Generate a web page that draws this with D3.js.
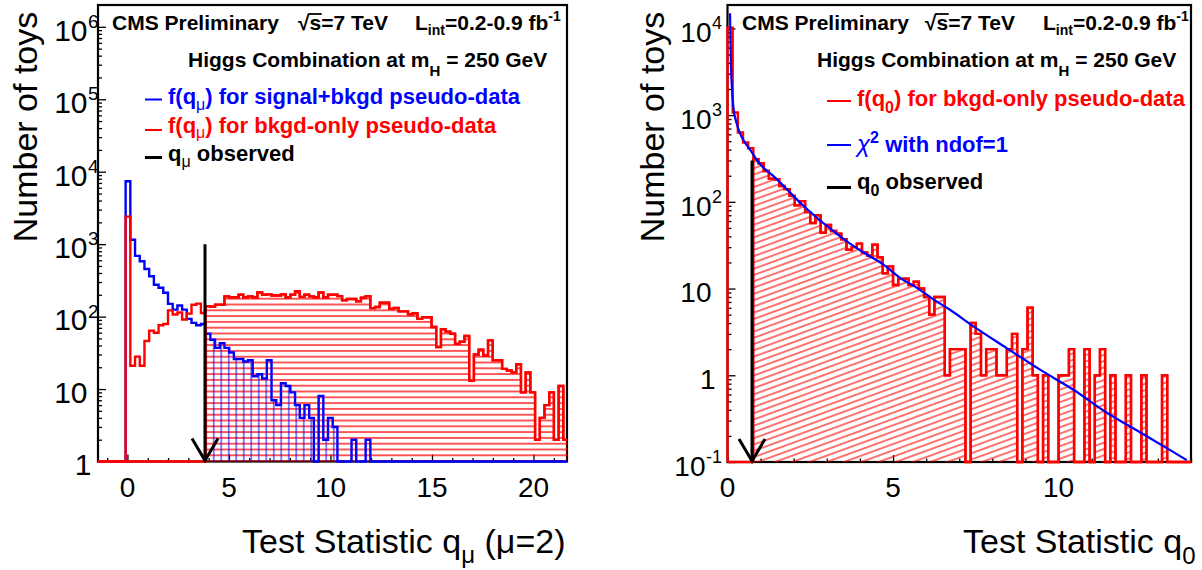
<!DOCTYPE html>
<html>
<head>
<meta charset="utf-8">
<script src="https://cdn.jsdelivr.net/npm/d3@7"></script>
<style>
  html, body { margin: 0; padding: 0; background: #fff; }
  svg { display: block; font-family: "Liberation Sans", Arial, Helvetica, sans-serif; }
</style>
</head>
<body>
<svg id="chart" width="1202" height="570"></svg>
<script>
// ---------------- data: q_mu toys (mu = 2) ----------------
const muBinStart = -0.089;
const muBinWidth = 0.2318;
const muSignalBkgd = [
  7400, 1150, 690, 580, 455, 360, 275, 250, 213, 150,
  125, 142, 125, 93, 82, 76, 79, 58, 48, 37,
  43, 37, 32, 26, 26, 24, 25, 15, 16, 14,
  25, 7, 6, 12, 11, 9, 6, 4, 6, 4,
  0, 8, 2, 4, 3, 0, 0, 0, 2, 0,
  0, 2, 0, 0, 0, 0, 0, 0, 0, 0,
  0, 0, 0, 0, 0, 0, 0, 0, 0, 0,
  0, 0, 0, 0, 0, 0, 0, 0, 0, 0,
  0, 0, 0, 0, 0, 0, 0, 0, 0, 0,
  0, 0, 0, 0
];
const muBkgdOnly = [
  2400, 21, 28, 21, 46, 64, 60, 76, 79, 122,
  107, 114, 91, 110, 146, 151, 112, 139, 137, 146,
  146, 190, 185, 185, 200, 185, 190, 185, 216, 200,
  203, 196, 196, 203, 185, 200, 224, 187, 200, 190,
  185, 216, 185, 200, 200, 192, 168, 175, 175, 163,
  182, 192, 131, 136, 155, 155, 128, 132, 118, 118,
  108, 111, 93, 98, 98, 72, 38, 67, 62, 58,
  42, 45, 54, 13, 30, 35, 29, 47, 25, 25,
  19, 18, 17, 22, 9, 17, 9, 2, 4, 6,
  9, 2, 11, 2
];
const muObserved = 3.82;
const muObservedHeight = 1000;
const muXTicks = [0, 5, 10, 15, 20];
const muYTicks = [1, 10, 1e2, 1e3, 1e4, 1e5, 1e6];

// ---------------- data: q_0 toys ----------------
const q0BinStart = 0;
const q0BinWidth = 0.15625;
const q0BkgdOnly = [
  10200, 1070, 630, 483, 415, 310, 279, 227, 185, 182,
  152, 140, 117, 91, 102, 76, 57, 70, 44, 54,
  46, 43, 37, 28, 30, 33, 26, 24, 32, 23,
  15, 18, 11, 13, 13, 11, 12, 10, 8, 5,
  8, 8, 1, 2, 2, 2, 0, 4, 3, 1,
  2, 2, 1, 1, 2, 3, 0, 2, 6, 1,
  0, 1, 0, 0, 1, 1, 2, 0, 0, 2,
  0, 1, 2, 0, 1, 0, 0, 1, 0, 0,
  1, 0, 0, 0, 1, 0, 0, 0, 0, 0
];
const chi2Q = [0.076, 0.106, 0.126, 0.176, 0.277, 0.378, 0.529, 0.68, 0.98, 1.38,
  1.79, 2.19, 2.69, 3.2, 3.7, 4.21, 4.71, 5.21, 5.72, 6.22,
  6.72, 7.43, 8.43, 9.44, 10.45, 11.46, 12.46, 13.47, 13.87];
const chi2Toys = [14900, 3600, 2320, 1250, 800, 615, 480, 400, 272, 199,
  140, 98, 66, 46, 33, 24.7, 18.9, 13.3, 10.2, 7.5,
  5.7, 3.66, 2.06, 1.16, 0.68, 0.37, 0.22, 0.13, 0.105];
const q0Observed = 0.74;
const q0ObservedHeight = 300;
const q0XTicks = [0, 5, 10];
const q0YTicks = [0.1, 1, 10, 1e2, 1e3, 1e4];

// ---------------- drawing ----------------
const RED = "#ff0000", BLUE = "#0000ff";
const svg = d3.select("#chart");
const defs = svg.append("defs");

function linePattern(id, w, h, line, color, width, opacity, transform) {
  const p = defs.append("pattern").attr("id", id)
    .attr("patternUnits", "userSpaceOnUse").attr("width", w).attr("height", h);
  if (transform) p.attr("patternTransform", transform);
  p.append("line").attr("x1", line[0]).attr("y1", line[1]).attr("x2", line[2]).attr("y2", line[3])
    .attr("stroke", color).attr("stroke-width", width).attr("stroke-opacity", opacity);
}
linePattern("hatchRedH", 10, 5.8, [0, 2.9, 10, 2.9], RED, 1.3, 1);
linePattern("hatchBlueV", 7.5, 10, [3.75, 0, 3.75, 10], BLUE, 1.3, 0.75);
linePattern("hatchRedD", 12, 5.9, [0, 2.95, 12, 2.95], RED, 1.1, 1, "rotate(-20)");

// step outline points of a histogram, starting on the floor at the frame's left edge
function stepPoints(values, start, width, x, y, floorPx, fromPx) {
  const ymin = y.domain()[0];
  const pts = [[fromPx, floorPx], [x(start), floorPx]];
  values.forEach((v, i) => {
    const yy = v > ymin ? y(v) : floorPx;
    pts.push([x(start + i * width), yy], [x(start + (i + 1) * width), yy]);
  });
  pts.push([x(start + values.length * width), floorPx]);
  return pts;
}
// copy of a histogram keeping only bins at or beyond the observed value
function tailOf(values, start, width, qObs) {
  return values.map((v, i) => (start + i * width >= qObs - 1e-9 ? v : 0));
}

const lineGen = d3.line();

function logTicks(domain) {
  const out = [];
  const lo = Math.floor(Math.log10(domain[0])), hi = Math.ceil(Math.log10(domain[1]));
  for (let e = lo; e <= hi; e++) {
    for (let m = 2; m <= 9; m++) {
      const v = m * Math.pow(10, e);
      if (v > domain[0] && v < domain[1]) out.push(v);
    }
  }
  return out;
}

function yLabel(g, v, y, baseX, size, supSize) {
  const e = Math.round(Math.log10(v));
  const yb = y(v) + 13.8;
  const t = (txt, x, yy, fs, anchor) => g.append("text").attr("x", x).attr("y", yy)
    .attr("font-size", fs).attr("text-anchor", anchor).text(txt);
  if (e === 0) { t("1", baseX + 4, yb, size, "end"); return; }
  if (e === 1) { t("10", baseX, yb, size, "end"); return; }
  const shift = e < 0 ? -6 : 0;
  t("10", baseX + shift, yb, size, "end");
  t(String(e), baseX + shift + 0.5, y(v) + 1, supSize, "start");
}

function drawPanel(cfg) {
  const g = svg.append("g");
  const x = d3.scaleLinear().domain(cfg.xDomain).range([cfg.left, cfg.right]);
  const y = d3.scaleLog().domain(cfg.yDomain).range([cfg.bottom, cfg.top]);

  // frame and ticks
  g.append("rect").attr("x", cfg.left).attr("y", cfg.top)
    .attr("width", cfg.right - cfg.left).attr("height", cfg.bottom - cfg.top)
    .attr("fill", "#fff").attr("stroke", "#000").attr("stroke-width", 2.2);

  const axes = g.append("g").attr("stroke-width", 1.3);
  axes.append("g").attr("transform", `translate(${cfg.left},0)`)
    .call(d3.axisLeft(y).tickValues(cfg.yTicks).tickSize(-8).tickFormat(""))
    .call(a => a.select(".domain").remove());
  axes.append("g").attr("transform", `translate(${cfg.left},0)`)
    .call(d3.axisLeft(y).tickValues(logTicks(cfg.yDomain)).tickSize(-4).tickFormat(""))
    .call(a => a.select(".domain").remove());
  axes.append("g").attr("transform", `translate(0,${cfg.bottom})`)
    .call(d3.axisBottom(x).tickValues(cfg.xTicks).tickSize(-7).tickFormat(""))
    .call(a => a.select(".domain").remove());
  const minorX = d3.range(Math.ceil(cfg.xDomain[0]), Math.floor(cfg.xDomain[1]) + 1)
    .filter(v => !cfg.xTicks.includes(v));
  axes.append("g").attr("transform", `translate(0,${cfg.bottom})`)
    .call(d3.axisBottom(x).tickValues(minorX).tickSize(-3.5).tickFormat(""))
    .call(a => a.select(".domain").remove());

  // tick labels
  cfg.xTicks.forEach(v => {
    g.append("text").attr("x", x(v)).attr("y", 497).attr("font-size", 28)
      .attr("text-anchor", "middle").text(v);
  });
  cfg.yTicks.forEach(v => yLabel(g, v, y, cfg.labelX, cfg.labelSize, cfg.supSize));

  // plot area, clipped to the frame
  const clipId = cfg.id + "-clip";
  defs.append("clipPath").attr("id", clipId).append("rect")
    .attr("x", cfg.left - 2).attr("y", cfg.top)
    .attr("width", cfg.right - cfg.left + 2).attr("height", cfg.bottom - cfg.top + 2);
  const plot = g.append("g").attr("clip-path", `url(#${clipId})`);

  return { g, plot, x, y };
}

function observedMarker(plot, x, y, q, h, floorPx) {
  const m = plot.append("g").attr("stroke", "#000").attr("fill", "none")
    .attr("stroke-width", 3);
  m.append("line").attr("x1", x(q)).attr("x2", x(q)).attr("y1", y(h)).attr("y2", floorPx);
  m.append("path").attr("d", lineGen([[x(q) - 13, floorPx - 23], [x(q), floorPx - 1], [x(q) + 13, floorPx - 23]]));
}

// ------- left panel: q_mu -------
(function () {
  const cfg = {
    id: "mu", left: 98, right: 567, top: 5, bottom: 461.5,
    xDomain: [-1.45, 21.65], yDomain: [1, 2.0e6],
    xTicks: muXTicks, yTicks: muYTicks, labelX: 87.5, labelSize: 30, supSize: 19
  };
  const { plot, x, y } = drawPanel(cfg);
  const floorPx = cfg.bottom;

  const redTail = tailOf(muBkgdOnly, muBinStart, muBinWidth, muObserved);
  const blueTail = tailOf(muSignalBkgd, muBinStart, muBinWidth, muObserved);

  plot.append("path").attr("d", lineGen(stepPoints(redTail, muBinStart, muBinWidth, x, y, floorPx, cfg.left)) + "Z")
    .attr("fill", "url(#hatchRedH)").attr("stroke", "none");
  plot.append("path").attr("d", lineGen(stepPoints(blueTail, muBinStart, muBinWidth, x, y, floorPx, cfg.left)) + "Z")
    .attr("fill", "url(#hatchBlueV)").attr("stroke", "none");

  plot.append("path").attr("d", lineGen(stepPoints(muSignalBkgd, muBinStart, muBinWidth, x, y, floorPx, cfg.left)))
    .attr("fill", "none").attr("stroke", BLUE).attr("stroke-width", 2.4);
  plot.append("path").attr("d", lineGen(stepPoints(muBkgdOnly, muBinStart, muBinWidth, x, y, floorPx, cfg.left)))
    .attr("fill", "none").attr("stroke", RED).attr("stroke-width", 2.4);
  plot.append("path").attr("d", lineGen(stepPoints(redTail, muBinStart, muBinWidth, x, y, floorPx, cfg.left)))
    .attr("fill", "none").attr("stroke", RED).attr("stroke-width", 2.4);

  observedMarker(plot, x, y, muObserved, muObservedHeight, floorPx);
})();

// ------- right panel: q_0 -------
(function () {
  const cfg = {
    id: "q0", left: 727.5, right: 1191, top: 5, bottom: 462,
    xDomain: [0, 14], yDomain: [0.1, 1.86e4],
    xTicks: q0XTicks, yTicks: q0YTicks, labelX: 711.5, labelSize: 28, supSize: 18
  };
  const { plot, x, y } = drawPanel(cfg);
  const floorPx = cfg.bottom;

  const tail = tailOf(q0BkgdOnly, q0BinStart, q0BinWidth, q0Observed);
  plot.append("path").attr("d", lineGen(stepPoints(tail, q0BinStart, q0BinWidth, x, y, floorPx, cfg.left)) + "Z")
    .attr("fill", "url(#hatchRedD)").attr("stroke", "none");
  plot.append("path").attr("d", lineGen(stepPoints(q0BkgdOnly, q0BinStart, q0BinWidth, x, y, floorPx, cfg.left)))
    .attr("fill", "none").attr("stroke", RED).attr("stroke-width", 2.4);
  plot.append("path").attr("d", lineGen(stepPoints(tail, q0BinStart, q0BinWidth, x, y, floorPx, cfg.left)))
    .attr("fill", "none").attr("stroke", RED).attr("stroke-width", 2.4);

  const chi2Line = d3.line().x(d => x(d[0])).y(d => y(d[1])).curve(d3.curveMonotoneX);
  plot.append("path").attr("d", chi2Line(chi2Q.map((q, i) => [q, chi2Toys[i]])))
    .attr("fill", "none").attr("stroke", BLUE).attr("stroke-width", 2.2);

  observedMarker(plot, x, y, q0Observed, q0ObservedHeight, floorPx);
})();

// ---------------- texts ----------------
function header(x0, x1, x2) {
  const yb = 30;
  svg.append("text").attr("x", x0).attr("y", yb).attr("font-size", 21).attr("font-weight", "bold")
    .text("CMS Preliminary");
  const s = svg.append("text").attr("x", x1).attr("y", yb).attr("font-size", 21).attr("font-weight", "bold");
  s.append("tspan").text("\u221A");
  s.append("tspan").text("s=7 TeV");
  const node = s.node();
  const e0 = node.getExtentOfChar(0), e1 = node.getExtentOfChar(1);
  svg.append("line").attr("x1", e0.x + e0.width - 1).attr("x2", e1.x + e1.width + 0.5)
    .attr("y1", yb - 16).attr("y2", yb - 16).attr("stroke", "#000").attr("stroke-width", 1.8);
  const L = svg.append("text").attr("x", x2).attr("y", yb).attr("font-size", 21).attr("font-weight", "bold");
  L.append("tspan").text("L");
  L.append("tspan").attr("font-size", 14).attr("dy", 5).text("int");
  L.append("tspan").attr("dy", -5).text("=0.2-0.9 fb");
  L.append("tspan").attr("font-size", 14).attr("dy", -9).text("-1");
}
function higgsLine(x0) {
  const t = svg.append("text").attr("x", x0).attr("y", 67).attr("font-size", 21).attr("font-weight", "bold");
  t.append("tspan").text("Higgs Combination at m");
  t.append("tspan").attr("font-size", 15).attr("dy", 9).text("H");
  t.append("tspan").attr("dy", -9).text(" = 250 GeV");
}
function legendEntry(x0, x1, yLine, yText, color, parts) {
  svg.append("line").attr("x1", x0).attr("x2", x1).attr("y1", yLine).attr("y2", yLine)
    .attr("stroke", color).attr("stroke-width", color === "#000" ? 3 : 2);
  const t = svg.append("text").attr("x", x1 + 6).attr("y", yText).attr("font-size", 22)
    .attr("font-weight", "bold").attr("fill", color);
  parts.forEach(p => {
    const sp = t.append("tspan").text(p.text);
    if (p.dy) sp.attr("dy", p.dy);
    if (p.size) sp.attr("font-size", p.size);
    if (p.normal) sp.attr("font-weight", "normal");
    if (p.italic) sp.attr("font-style", "italic");
  });
}

// left panel texts
header(112, 298, 415);
higgsLine(188);
legendEntry(145, 162, 99.5, 104, BLUE, [
  { text: "f(q" }, { text: "\u03BC", dy: 6, size: 16, normal: true }, { text: ") for signal+bkgd pseudo-data", dy: -6 }
]);
legendEntry(145, 162, 130, 132.5, RED, [
  { text: "f(q" }, { text: "\u03BC", dy: 5.5, size: 16, normal: true }, { text: ") for bkgd-only pseudo-data", dy: -5.5 }
]);
legendEntry(145, 162, 157.5, 161, "#000", [
  { text: "q" }, { text: "\u03BC", dy: 6, size: 16, normal: true }, { text: " observed", dy: -6 }
]);

// right panel texts
header(742, 925, 1043);
higgsLine(817);
legendEntry(827, 851, 101, 106, RED, [
  { text: "f(q" }, { text: "0", dy: 7, size: 16 }, { text: ") for bkgd-only pseudo-data", dy: -7 }
]);
legendEntry(827, 851, 145, 152, BLUE, [
  { text: "\u03C7", normal: true, italic: true, size: 24 }, { text: "2", dy: -9, size: 16 }, { text: " with ndof=1", dy: 9 }
]);
legendEntry(827, 851, 187.5, 189, "#000", [
  { text: "q" }, { text: "0", dy: 7, size: 16 }, { text: " observed", dy: -7 }
]);

// axis titles
function yTitle(xb) {
  svg.append("text").attr("transform", `translate(${xb},127) rotate(-90)`)
    .attr("text-anchor", "middle").attr("font-size", 34).text("Number of toys");
}
yTitle(37);
yTitle(664);

const tl = svg.append("text").attr("x", 242).attr("y", 553).attr("font-size", 34);
tl.append("tspan").text("Test Statistic q");
tl.append("tspan").attr("font-size", 24).attr("dy", 10).text("\u03BC");
tl.append("tspan").attr("dy", -10).text(" (\u03BC=2)");

const tr = svg.append("text").attr("x", 963).attr("y", 553).attr("font-size", 34);
tr.append("tspan").text("Test Statistic q");
tr.append("tspan").attr("font-size", 24).attr("dy", 11).text("0");
</script>
</body>
</html>
